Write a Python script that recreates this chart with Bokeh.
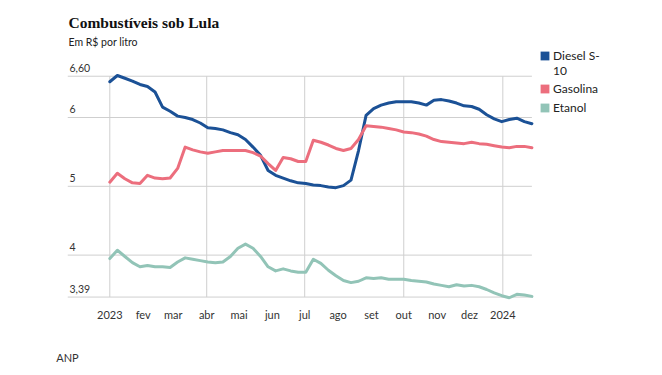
import pandas as pd
from bokeh.plotting import figure
from bokeh.models import Range1d, FixedTicker, Legend, LegendItem, Title
from bokeh.core.properties import value
from bokeh.embed import file_html
from bokeh.resources import INLINE

# ---- data (weekly prices, R$ per litre) ----
dates = pd.date_range("2023-01-01", periods=57, freq="7D")
diesel = [6.52, 6.61, 6.57, 6.53, 6.48, 6.45, 6.37, 6.15, 6.09, 6.02, 6.00, 5.97, 5.92, 5.85,
          5.84, 5.82, 5.78, 5.75, 5.68, 5.57, 5.45, 5.23, 5.16, 5.12, 5.08, 5.05, 5.04,
          5.02, 5.01, 4.99, 4.98, 5.01, 5.09, 5.52, 6.03, 6.13, 6.18, 6.21, 6.23, 6.23,
          6.23, 6.21, 6.18, 6.25, 6.26, 6.24, 6.21, 6.17, 6.16, 6.12, 6.04, 5.98, 5.94, 5.97, 5.99, 5.94, 5.91]
gasolina = [5.06, 5.19, 5.11, 5.05, 5.04, 5.16, 5.12, 5.11, 5.12, 5.26, 5.57, 5.53, 5.50, 5.48,
            5.50, 5.52, 5.52, 5.52, 5.52, 5.49, 5.44, 5.33, 5.23, 5.42, 5.40, 5.36, 5.36,
            5.67, 5.64, 5.60, 5.55, 5.52, 5.55, 5.68, 5.88, 5.87, 5.86, 5.84, 5.82, 5.79,
            5.78, 5.76, 5.73, 5.68, 5.65, 5.64, 5.63, 5.62, 5.64, 5.62, 5.61, 5.59, 5.57, 5.56, 5.58, 5.58, 5.56]
etanol = [3.95, 4.07, 3.98, 3.89, 3.83, 3.85, 3.83, 3.83, 3.82, 3.90, 3.96, 3.94, 3.92, 3.90,
          3.89, 3.90, 3.98, 4.10, 4.16, 4.10, 3.98, 3.83, 3.77, 3.80, 3.77, 3.75, 3.75,
          3.94, 3.88, 3.78, 3.70, 3.63, 3.60, 3.62, 3.67, 3.66, 3.67, 3.65, 3.65, 3.65,
          3.63, 3.62, 3.61, 3.58, 3.56, 3.54, 3.57, 3.55, 3.56, 3.54, 3.50, 3.45, 3.41, 3.38, 3.43, 3.42, 3.40]

# legend labels, as wrapped in the reference
series_label_lines = [["Diesel S-", "10"], ["Gasolina"], ["Etanol"]]
series_colors = ["#1b5196", "#ec6e7d", "#92c4b7"]

y_ticks = [3.39, 4, 5, 6, 6.6]
y_tick_labels = ["3,39", "4", "5", "6", "6,60"]

month_starts = pd.date_range("2023-01-01", "2024-01-01", freq="MS")
month_labels = ["2023", "fev", "mar", "abr", "mai", "jun", "jul", "ago", "set", "out", "nov", "dez", "2024"]
grid_dates = pd.to_datetime(["2023-01-01", "2023-04-01", "2023-07-01", "2023-10-01", "2024-01-01"])

# ---- figure ----
x_start = pd.Timestamp("2023-01-01") - pd.Timedelta(hours=943)
x_end = pd.Timestamp("2023-01-01") + pd.Timedelta(hours=12319)

p = figure(width=662, height=375, x_axis_type="datetime", y_axis_location=None,
           x_range=Range1d(x_start, x_end), y_range=Range1d(3.3401, 7.0029),
           output_backend="svg", toolbar_location=None, title=None,
           min_border_left=67, min_border_right=0, min_border_top=48, min_border_bottom=75)
p.outline_line_color = None
p.xgrid.visible = False
p.ygrid.visible = False
p.background_fill_color = "white"

grid_color = "#cfcfcf"
# horizontal grid lines, from the frame's left edge to the last week
p.segment(x0=[x_start] * len(y_ticks), y0=y_ticks, x1=[dates[-1]] * len(y_ticks), y1=y_ticks,
          line_color=grid_color, line_width=1)
# vertical grid lines at quarter starts
p.segment(x0=grid_dates, y0=[min(y_ticks)] * len(grid_dates), x1=grid_dates,
          y1=[max(y_ticks)] * len(grid_dates), line_color=grid_color, line_width=1)

p.text(x=[x_start] * len(y_ticks), y=y_ticks, text=y_tick_labels,
       text_font=value("Lato"), text_font_size="10.5px", text_color="#333333",
       text_align="left", text_baseline="bottom", x_offset=2, y_offset=-4)

nan = float("nan")
blank = p.quad(left=[nan], right=[nan], top=[nan], bottom=[nan], fill_alpha=0, line_alpha=0)
legend_groups = []
for vals, lines, col in zip([diesel, gasolina, etanol], series_label_lines, series_colors):
    p.line(dates, vals, line_color=col, line_width=3, line_join="round", line_cap="round")
    # legend swatch (no visible mark on the chart)
    proxy = p.quad(left=[nan], right=[nan], top=[nan], bottom=[nan], fill_color=col, line_color=None)
    group = [LegendItem(label=lines[0], renderers=[proxy])]
    group += [LegendItem(label=extra, renderers=[blank]) for extra in lines[1:]]
    legend_groups.append(group)

legend_style = dict(orientation="vertical", border_line_color=None, background_fill_alpha=0,
                    glyph_width=11, glyph_height=11, label_standoff=3, padding=0, margin=0,
                    label_height=12, label_text_font="Lato", label_text_font_size="12px",
                    label_text_color="#222222")
p.add_layout(Legend(items=legend_groups[0], location=(472, 222), spacing=0, **legend_style))
p.add_layout(Legend(items=legend_groups[1] + legend_groups[2], location=(472, 185), spacing=4,
                    **legend_style))

xa = p.xaxis[0]
xa.ticker = FixedTicker(ticks=[int(d.value // 10**6) for d in month_starts])
xa.major_label_overrides = {int(d.value // 10**6): lab for d, lab in zip(month_starts, month_labels)}
xa.axis_line_color = None
xa.major_tick_line_color = None
xa.minor_tick_line_color = None
xa.major_tick_out = 0
xa.major_tick_in = 0
xa.major_label_standoff = 7
xa.major_label_text_font = "Lato"
xa.major_label_text_font_size = "11px"
xa.major_label_text_color = "#333333"
xa.axis_label = "ANP"
xa.axis_label_align = "start"
xa.axis_label_standoff = 27
xa.axis_label_text_font = "Lato"
xa.axis_label_text_font_size = "11px"
xa.axis_label_text_font_style = "normal"
xa.axis_label_text_color = "#333333"

p.add_layout(Title(text="Em R$ por litro", align="left", offset=1, standoff=2, text_font="Lato",
                   text_font_size="10.5px", text_font_style="normal", text_color="#222222"), "above")
p.add_layout(Title(text="Combustíveis sob Lula", align="left", offset=1, standoff=3,
                   text_font="Liberation Serif", text_font_size="15.5px", text_font_style="bold",
                   text_color="#111111"), "above")

open("out.html", "w").write(file_html(p, INLINE))
